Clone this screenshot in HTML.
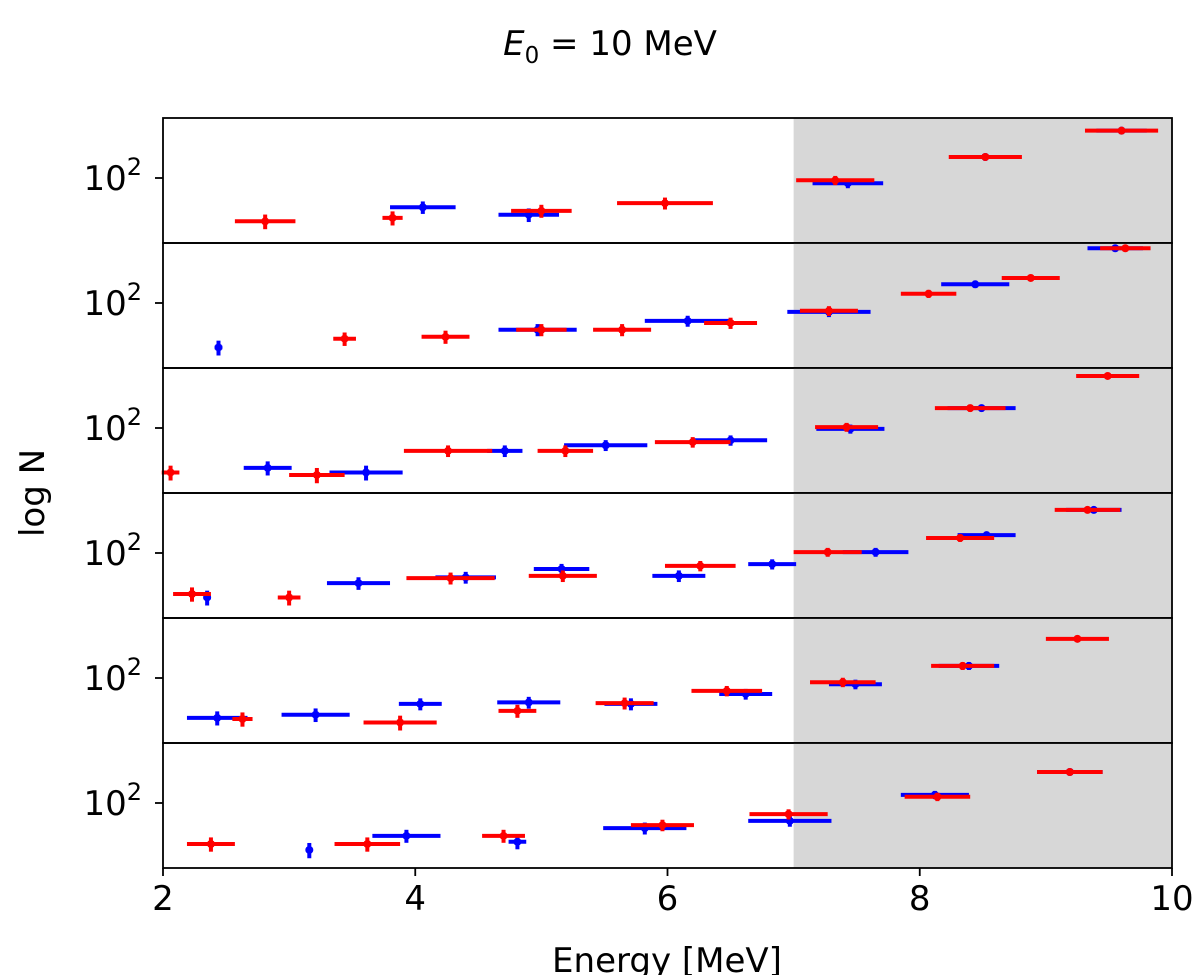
<!DOCTYPE html>
<html><head><meta charset="utf-8">
<style>
html,body{margin:0;padding:0;background:#fff;}
svg{display:block;font-family:"DejaVu Sans","Liberation Sans",sans-serif;}
</style></head>
<body>
<svg id="chart" width="1200" height="975" viewBox="0 0 1200 975" xmlns="http://www.w3.org/2000/svg">
<text x="610" y="55" text-anchor="middle" font-size="34"><tspan font-style="italic">E</tspan><tspan font-size="23" dy="8">0</tspan><tspan dy="-8"> =  10 MeV</tspan></text>
<text transform="translate(44,493) rotate(-90)" text-anchor="middle" font-size="34">log N</text>
<text x="667" y="972" text-anchor="middle" font-size="34">Energy [MeV]</text>
<g id="plots"></g>
</svg>
<script>
// Data per panel: red and blue series (energy center, half-width, counts)
const xTicks = [2, 4, 6, 8, 10];
const threshold = 7;
const p1RedE = [2.81,3.82,5.00,5.98,7.33,8.52,9.60];
const p1RedW = [0.24,0.08,0.24,0.38,0.31,0.29,0.29];
const p1RedN = [38,41,48,57,95,160,288];
const p1BlueE = [4.06,4.90,7.43,8.52,9.60];
const p1BlueW = [0.26,0.24,0.28,0.2,0.2];
const p1BlueN = [52,44,89,160,288];
const p2RedE = [3.44,4.24,5.00,5.64,6.50,7.28,8.07,8.88,9.63];
const p2RedW = [0.09,0.19,0.2,0.23,0.21,0.23,0.22,0.23,0.2];
const p2RedN = [45,47,55,55,64,84,123,175,340];
const p2BlueE = [2.44,4.97,6.16,7.28,8.44,9.55];
const p2BlueW = [0.03,0.31,0.34,0.33,0.27,0.22];
const p2BlueN = [37,55,67,82,152,340];
const p3RedE = [2.06,3.22,4.26,5.19,6.20,7.42,8.40,9.49];
const p3RedW = [0.07,0.22,0.35,0.22,0.30,0.25,0.28,0.25];
const p3RedN = [37,35,60,60,73,102,156,320];
const p3BlueE = [2.83,3.61,4.71,5.51,6.50,7.45,8.49];
const p3BlueW = [0.19,0.29,0.14,0.33,0.29,0.27,0.27];
const p3BlueN = [41,37,60,68,76,98,156];
const p4RedE = [2.23,3.00,4.28,5.17,6.26,7.27,8.32,9.33];
const p4RedW = [0.15,0.09,0.35,0.27,0.28,0.27,0.27,0.26];
const p4RedN = [40,37,57,60,75,102,140,262];
const p4BlueE = [2.35,3.55,4.40,5.16,6.09,6.83,7.65,8.53,9.38];
const p4BlueW = [0.03,0.25,0.24,0.22,0.21,0.19,0.26,0.23,0.22];
const p4BlueN = [37,51,58,70,60,78,102,149,262];
const p5RedE = [2.63,3.88,4.81,5.66,6.47,7.39,8.34,9.25];
const p5RedW = [0.08,0.29,0.15,0.23,0.28,0.26,0.25,0.25];
const p5RedN = [40,37,48,57,75,91,131,240];
const p5BlueE = [2.43,3.21,4.04,4.90,5.71,6.62,7.49,8.39];
const p5BlueW = [0.24,0.27,0.17,0.25,0.21,0.21,0.21,0.24];
const p5BlueN = [41,44,56,58,56,70,87,131];
const p6RedE = [2.38,3.62,4.70,5.96,6.96,8.14,9.19];
const p6RedW = [0.19,0.26,0.17,0.25,0.31,0.26,0.26];
const p6RedN = [40,40,48,61,78,115,200];
const p6BlueE = [3.16,3.93,4.81,5.82,6.97,8.12,9.19];
const p6BlueW = [0.02,0.27,0.07,0.33,0.33,0.27,0.26];
const p6BlueN = [35,48,42,57,67,120,200];

const panels = [
  {blue:[p1BlueE,p1BlueW,p1BlueN], red:[p1RedE,p1RedW,p1RedN]},
  {blue:[p2BlueE,p2BlueW,p2BlueN], red:[p2RedE,p2RedW,p2RedN]},
  {blue:[p3BlueE,p3BlueW,p3BlueN], red:[p3RedE,p3RedW,p3RedN]},
  {blue:[p4BlueE,p4BlueW,p4BlueN], red:[p4RedE,p4RedW,p4RedN]},
  {blue:[p5BlueE,p5BlueW,p5BlueN], red:[p5RedE,p5RedW,p5RedN]},
  {blue:[p6BlueE,p6BlueW,p6BlueN], red:[p6RedE,p6RedW,p6RedN]}
];

const NS = "http://www.w3.org/2000/svg";
const g = document.getElementById('plots');
const X0 = 163, X1 = 1172, TOP = 118, PH = 125;
const pxPerDecade = 103, tickOff = 60;
function xs(e){ return X0 + (e - 2) / 8 * (X1 - X0); }
function mk(tag, attrs){ const el = document.createElementNS(NS, tag); for (const k in attrs) el.setAttribute(k, attrs[k]); return el; }

panels.forEach((p, i) => {
  const top = TOP + i * PH;
  const ys = n => top + tickOff - (Math.log10(n) - 2) * pxPerDecade;
  const pg = mk('g', {});
  
  
  g.appendChild(pg);
  const shade = mk('rect', {x: xs(threshold), y: top, width: xs(10) - xs(threshold), height: PH, fill: '#d7d7d7'});
  
  
  pg.appendChild(shade);
  ['blue', 'red'].forEach(col => {
    const [E, W, N] = p[col];
    const c = col === 'blue' ? '#0000ff' : '#ff0000';
    E.forEach((e, j) => {
      const n = N[j], y = ys(n), s = Math.sqrt(n);
      const pt = mk('g', {stroke: c, 'stroke-width': 4, fill: c});
      
      
      pt.appendChild(mk('line', {x1: xs(e - W[j]), x2: xs(e + W[j]), y1: y, y2: y}));
      pt.appendChild(mk('line', {x1: xs(e), x2: xs(e), y1: ys(n + s), y2: ys(Math.max(n - s, 1))}));
      pt.appendChild(mk('circle', {cx: xs(e), cy: y, r: 4, stroke: 'none'}));
      pg.appendChild(pt);
    });
  });
  const frame = mk('rect', {x: X0, y: top, width: X1 - X0, height: PH, fill: 'none', stroke: '#000', 'stroke-width': 1.8});
  
  
  pg.appendChild(frame);
  const ty = ys(100);
  pg.appendChild(mk('line', {x1: X0 - 8, x2: X0, y1: ty, y2: ty, stroke: '#000', 'stroke-width': 1.8}));
  const lab = mk('text', {x: 142, y: ty + 12, 'text-anchor': 'end', 'font-size': 34});
  
  
  lab.innerHTML = '10<tspan font-size="24" dy="-15">2</tspan>';
  pg.appendChild(lab);
});
const bottom = TOP + 6 * PH;
xTicks.forEach(t => {
  g.appendChild(mk('line', {x1: xs(t), x2: xs(t), y1: bottom, y2: bottom + 8, stroke: '#000', 'stroke-width': 1.8}));
  const l = mk('text', {x: xs(t), y: bottom + 42, 'text-anchor': 'middle', 'font-size': 34});
  
  
  l.textContent = t;
  g.appendChild(l);
});
</script>
</body></html>
